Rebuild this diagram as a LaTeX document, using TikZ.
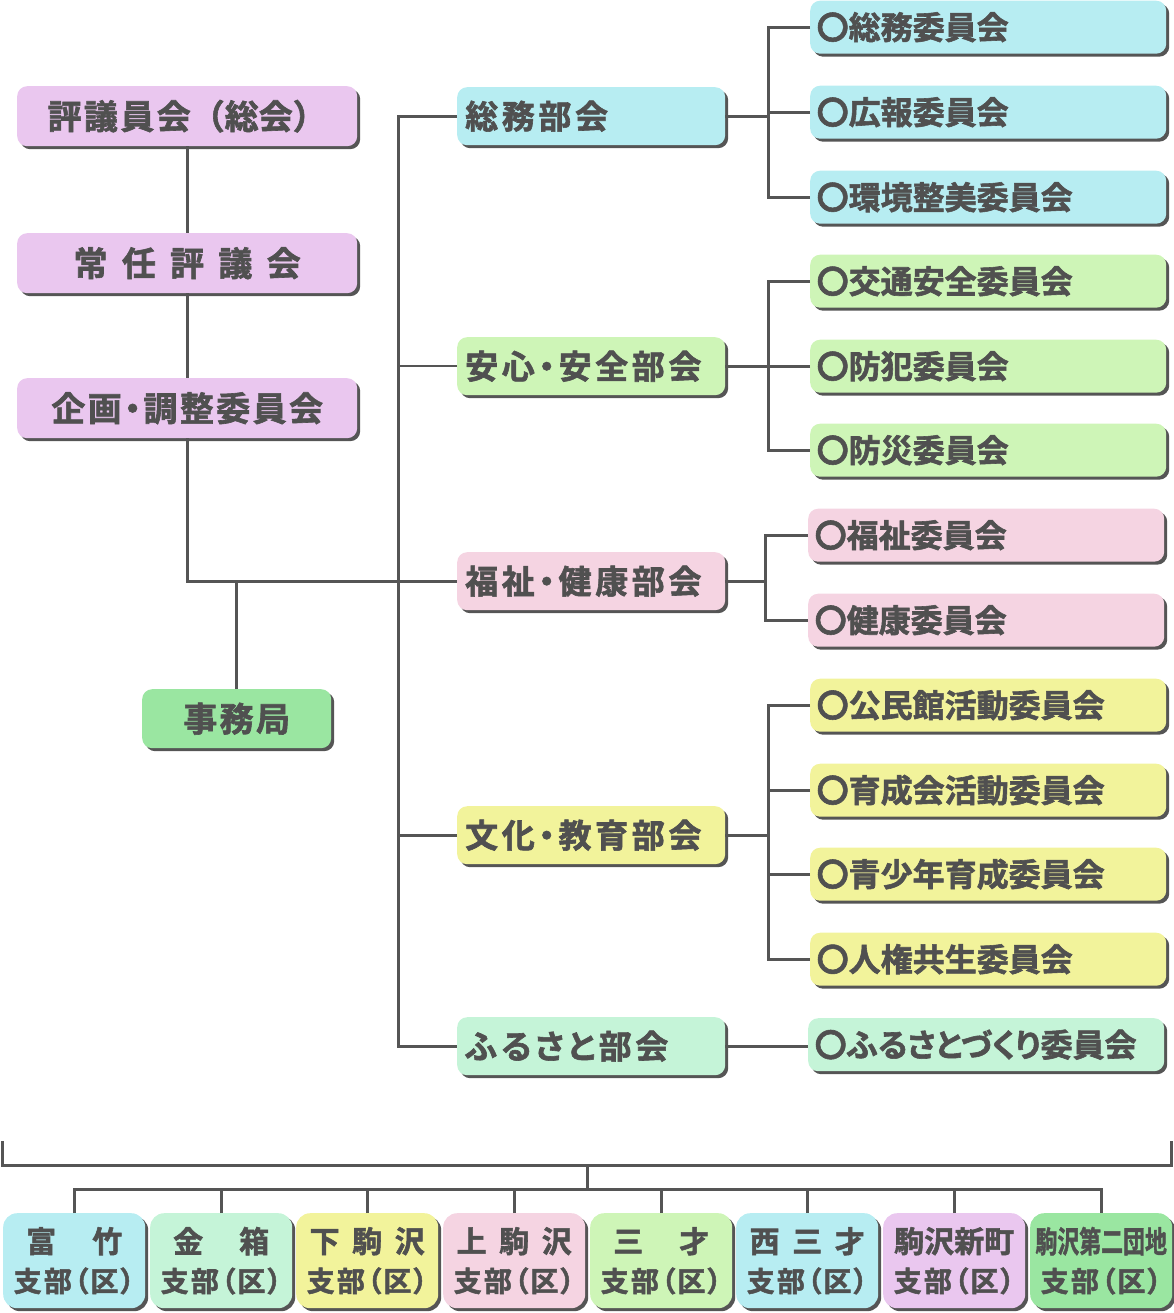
\documentclass[tikz,border=0pt]{standalone}
\usepackage{fontspec}
\newfontfamily\jp{Noto Sans CJK JP}[BoldFont={Noto Sans CJK JP Bold},BoldFeatures={FakeBold=1.8}]
\newfontfamily\jpp{Noto Sans CJK JP}[BoldFont={Noto Sans CJK JP Bold},BoldFeatures={FakeBold=1.8},RawFeature=+palt]
\newfontfamily\jps{Noto Sans CJK JP}[BoldFont={Noto Sans CJK JP Bold},BoldFeatures={FakeBold=1.8},RawFeature=+palt,LetterSpace=8]
\newfontfamily\jpl{Noto Sans CJK JP}[BoldFont={Noto Sans CJK JP Bold},BoldFeatures={FakeBold=1.8},RawFeature=+palt,LetterSpace=7]
\newfontfamily\jpd{Noto Sans CJK JP}[BoldFont={Noto Sans CJK JP Bold},BoldFeatures={FakeBold=1.8},RawFeature=+palt,LetterSpace=11]
\usetikzlibrary{shadows}
\definecolor{txt}{HTML}{505050}
\definecolor{ln}{HTML}{555555}
\definecolor{shd}{HTML}{555555}
\definecolor{cpur}{HTML}{EAC7EF}
\definecolor{ccyan}{HTML}{B7EDF2}
\definecolor{clgrn}{HTML}{CEF5B7}
\definecolor{cpink}{HTML}{F5D4E2}
\definecolor{cyel}{HTML}{F2F39B}
\definecolor{cmint}{HTML}{C5F4D8}
\definecolor{cgrn}{HTML}{9AE6A1}
\tikzset{
  box/.style={rounded corners=10pt, draw=none, anchor=north west, inner sep=0pt, text=txt,
    drop shadow={shadow xshift=3pt,shadow yshift=-3pt,fill=shd,opacity=1}},
  lbox/.style={box, minimum width=340pt, minimum height=60pt, align=center,
    font=\jpl\bfseries\fontsize{34}{38}\selectfont},
  dept/.style={box, text width=252pt, inner xsep=8pt, align=left, minimum height=58pt,
    font=\jpd\bfseries\fontsize{33}{36}\selectfont},
  comm/.style={box, text width=343pt, inner xsep=6.5pt, align=left, minimum height=53pt,
    font=\jp\bfseries\fontsize{32}{36}\selectfont},
  shibu/.style={box, rounded corners=14pt, minimum width=142pt, minimum height=95pt, align=center,
    font=\jps\bfseries\fontsize{28}{39}\selectfont},
  conn/.style={draw=ln, line width=3pt},
  thinconn/.style={draw=ln, line width=1.8pt}
}
\newcommand{\lone}[1]{{\jp\bfseries\fontsize{30}{39}\selectfont #1}}
\begin{document}
\begin{tikzpicture}[x=1pt,y=-1pt]
\useasboundingbox (0,0) rectangle (1173,1313);

% left column
\node[lbox, fill=cpur] (hyo) at (17,86) {評議員会{\jp\bfseries（総会）}};
\node[lbox, fill=cpur] (jonin) at (17,233) {常\hspace{0.42em}任\hspace{0.42em}評\hspace{0.42em}議\hspace{0.42em}会};
\node[lbox, fill=cpur] (kikaku) at (17,378) {企画・調整委員会};
\node[box, fill=cgrn, minimum width=189pt, minimum height=59pt, font=\jpl\bfseries\fontsize{34}{38}\selectfont] (jimu) at (142,689) {事務局};

% departments
\node[dept, fill=ccyan] (soumu) at (457,87) {総務部会};
\node[dept, fill=clgrn] (anshin) at (457,337) {安心・安全部会};
\node[dept, fill=cpink] (fukushi) at (457,552) {福祉・健康部会};
\node[dept, fill=cyel] (bunka) at (457,806) {文化・教育部会};
\node[dept, fill=cmint] (furusato) at (457,1017) {ふるさと部会};

% committees
\node[comm, fill=ccyan] (c1) at (810,0.5) {〇総務委員会};
\node[comm, fill=ccyan] (c2) at (810,85.5) {〇広報委員会};
\node[comm, fill=ccyan] (c3) at (810,170.5) {〇環境整美委員会};
\node[comm, fill=clgrn] (c4) at (810,254.5) {〇交通安全委員会};
\node[comm, fill=clgrn] (c5) at (810,339.5) {〇防犯委員会};
\node[comm, fill=clgrn] (c6) at (810,423.5) {〇防災委員会};
\node[comm, fill=cpink] (c7) at (808,508.5) {〇福祉委員会};
\node[comm, fill=cpink] (c8) at (808,593.5) {〇健康委員会};
\node[comm, fill=cyel] (c9) at (810,678.5) {〇公民館活動委員会};
\node[comm, fill=cyel] (c10) at (810,763.5) {〇育成会活動委員会};
\node[comm, fill=cyel] (c11) at (810,847.5) {〇青少年育成委員会};
\node[comm, fill=cyel] (c12) at (810,932.5) {〇人権共生委員会};
\node[comm, fill=cmint] (c13) at (808,1018) {〇{\jpp\bfseries ふるさとづくり}委員会};

% branches
\node[shibu, fill=ccyan] (s1) at (3,1213) {\lone{富\hspace{1.2em}竹}\\支部（区）};
\node[shibu, fill=cmint] (s2) at (150,1213) {\lone{金\hspace{1.2em}箱}\\支部（区）};
\node[shibu, fill=cyel] (s3) at (296,1213) {\lone{下\hspace{0.42em}駒\hspace{0.42em}沢}\\支部（区）};
\node[shibu, fill=cpink] (s4) at (443,1213) {\lone{上\hspace{0.42em}駒\hspace{0.42em}沢}\\支部（区）};
\node[shibu, fill=clgrn] (s5) at (590,1213) {\lone{三\hspace{1.2em}才}\\支部（区）};
\node[shibu, fill=ccyan] (s6) at (736,1213) {\lone{西\hspace{0.42em}三\hspace{0.42em}才}\\支部（区）};
\node[shibu, fill=cpur] (s7) at (883,1213) {\lone{駒沢新町}\\支部（区）};
\node[shibu, fill=cgrn] (s8) at (1030,1213) {\lone{\scalebox{0.73}[1]{駒沢第二団地}}\\支部（区）};

% coordinates
\coordinate (bus) at (398,0);
\coordinate (bxa) at (768,0);
\coordinate (bxb) at (768,0);
\coordinate (bxc) at (765,0);
\coordinate (bxd) at (768,0);
\coordinate (bl) at (2,1141);
\coordinate (br) at (1171,1141);
\coordinate (bm) at (587,1165);
\coordinate (bj) at (587,1189);

% left connectors
\draw[conn] (hyo.south) -- (jonin.north);
\draw[conn] (jonin.south) -- (kikaku.north);
\draw[conn] (kikaku.south) |- (fukushi.west);
\draw[conn] (jimu.north) -- (jimu.north |- fukushi.west);

% bus
\draw[conn] (soumu.west) -- (soumu.west -| bus) -- (furusato.west -| bus) -- (furusato.west);
\draw[thinconn] (anshin.west) -- (anshin.west -| bus);
\draw[conn] (bunka.west) -- (bunka.west -| bus);

% committee brackets
\draw[conn] (soumu.east) -- (soumu.east -| bxa);
\draw[conn] (c1.west) -- (c1.west -| bxa) -- (c3.west -| bxa) -- (c3.west);
\draw[conn] (c2.west) -- (c2.west -| bxa);

\draw[conn] (anshin.east) -- (anshin.east -| bxb);
\draw[conn] (c4.west) -- (c4.west -| bxb) -- (c6.west -| bxb) -- (c6.west);
\draw[conn] (c5.west) -- (c5.west -| bxb);

\draw[conn] (fukushi.east) -- (fukushi.east -| bxc);
\draw[conn] (c7.west) -- (c7.west -| bxc) -- (c8.west -| bxc) -- (c8.west);

\draw[conn] (bunka.east) -- (bunka.east -| bxd);
\draw[conn] (c9.west) -- (c9.west -| bxd) -- (c12.west -| bxd) -- (c12.west);
\draw[conn] (c10.west) -- (c10.west -| bxd);
\draw[conn] (c11.west) -- (c11.west -| bxd);

\draw[conn] (furusato.east) -- (furusato.east -| c13.west);

% bottom bracket
\draw[conn] (bl) -- (bl |- bm) -- (br |- bm) -- (br);
\draw[conn] (bm) -- (bj);
\draw[conn] (s1.north) -- (s1.north |- bj) -- (s8.north |- bj) -- (s8.north);
\foreach \s in {s2,s3,s4,s5,s6,s7} {\draw[conn] (\s.north) -- (\s.north |- bj);}
\end{tikzpicture}
\end{document}
